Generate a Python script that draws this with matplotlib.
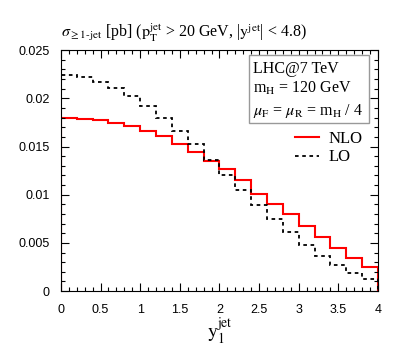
import numpy as np
import matplotlib
matplotlib.use("Agg")
import matplotlib.pyplot as plt
from matplotlib.patches import Rectangle
from matplotlib.ticker import MultipleLocator

plt.rcParams["mathtext.fontset"] = "stix"

# bin edges in y_1^jet and cross sections per bin [pb]
edges = np.linspace(0, 4, 21)
nlo = [0.01795, 0.01784, 0.01771, 0.01743, 0.01708, 0.01663, 0.01608, 0.01525,
       0.01439, 0.01349, 0.01262, 0.01151, 0.01004, 0.00902, 0.00799, 0.00677,
       0.00563, 0.00449, 0.00345, 0.00254]
lo = [0.02244, 0.02223, 0.02171, 0.02109, 0.02023, 0.01916, 0.01800, 0.01663,
      0.01525, 0.01359, 0.01203, 0.01048, 0.00897, 0.00743, 0.00609, 0.00474,
      0.00363, 0.00267, 0.00184, 0.00124]
xtick_labels = ["0", "0.5", "1", "1.5", "2", "2.5", "3", "3.5", "4"]
ytick_labels = ["0", "0.005", "0.01", "0.015", "0.02", "0.025"]
info_lines = ["LHC@7 TeV",
              r"m$_\mathrm{H}$ = 120 GeV",
              r"$\mu_\mathrm{F}$ = $\mu_\mathrm{R}$ = m$_\mathrm{H}$ / 4"]

serif = "Liberation Serif"
sans = "Liberation Sans"

fig = plt.figure(figsize=(4.09, 3.63), dpi=100)
ax = fig.add_axes([0.149, 0.198, 0.775, 0.664])

ax.stairs(nlo, edges, color="#ff0000", lw=1.5, label="NLO")
ax.stairs(lo, edges, color="black", lw=1.3, linestyle=(0, (2, 2)), label="LO")

ax.set_xlim(0, 4)
ax.set_ylim(0, 0.025)
ax.set_xticks(np.arange(0, 4.01, 0.5))
ax.set_xticklabels(xtick_labels)
ax.set_yticks(np.arange(0, 0.0251, 0.005))
ax.set_yticklabels(ytick_labels)
ax.xaxis.set_minor_locator(MultipleLocator(0.1))
ax.yaxis.set_minor_locator(MultipleLocator(0.001))
ax.tick_params(which="both", direction="in", top=True, right=True, width=0.8)
ax.tick_params(which="major", length=6)
ax.tick_params(which="minor", length=3)
ax.tick_params(axis="x", which="major", pad=9)
ax.tick_params(axis="y", which="major", pad=8)
for lab in ax.get_xticklabels() + ax.get_yticklabels():
    lab.set_family(sans)
    lab.set_fontsize(9)

ax.set_xlabel(r"$\mathrm{y}_1^{\mathrm{jet}}$", fontsize=14, labelpad=0)
ax.text(0.0, 1.05,
        r"$\sigma_{\geq\text{1-jet}}$ [pb] ($\mathrm{p}_\mathrm{T}^{\mathrm{jet}}$ > 20 GeV, |$\mathrm{y}^{\mathrm{jet}}$| < 4.8)",
        transform=ax.transAxes, family=serif, fontsize=11.5, ha="left", va="baseline")

ax.add_patch(Rectangle((0.593, 0.697), 0.379, 0.282, transform=ax.transAxes,
                       fc="white", ec="#999999", lw=1, zorder=3))
for line, yb in zip(info_lines, [0.905, 0.822, 0.730]):
    ax.text(0.607, yb, line, transform=ax.transAxes, family=serif,
            fontsize=11.5, ha="left", va="baseline", zorder=4)

ax.legend(loc="center left", bbox_to_anchor=(0.738, 0.593), frameon=False,
          prop={"family": serif, "size": 12}, handlelength=1.45,
          handletextpad=0.55, labelspacing=0.15, borderaxespad=0, borderpad=0)

fig.savefig("out.png", dpi=100)
